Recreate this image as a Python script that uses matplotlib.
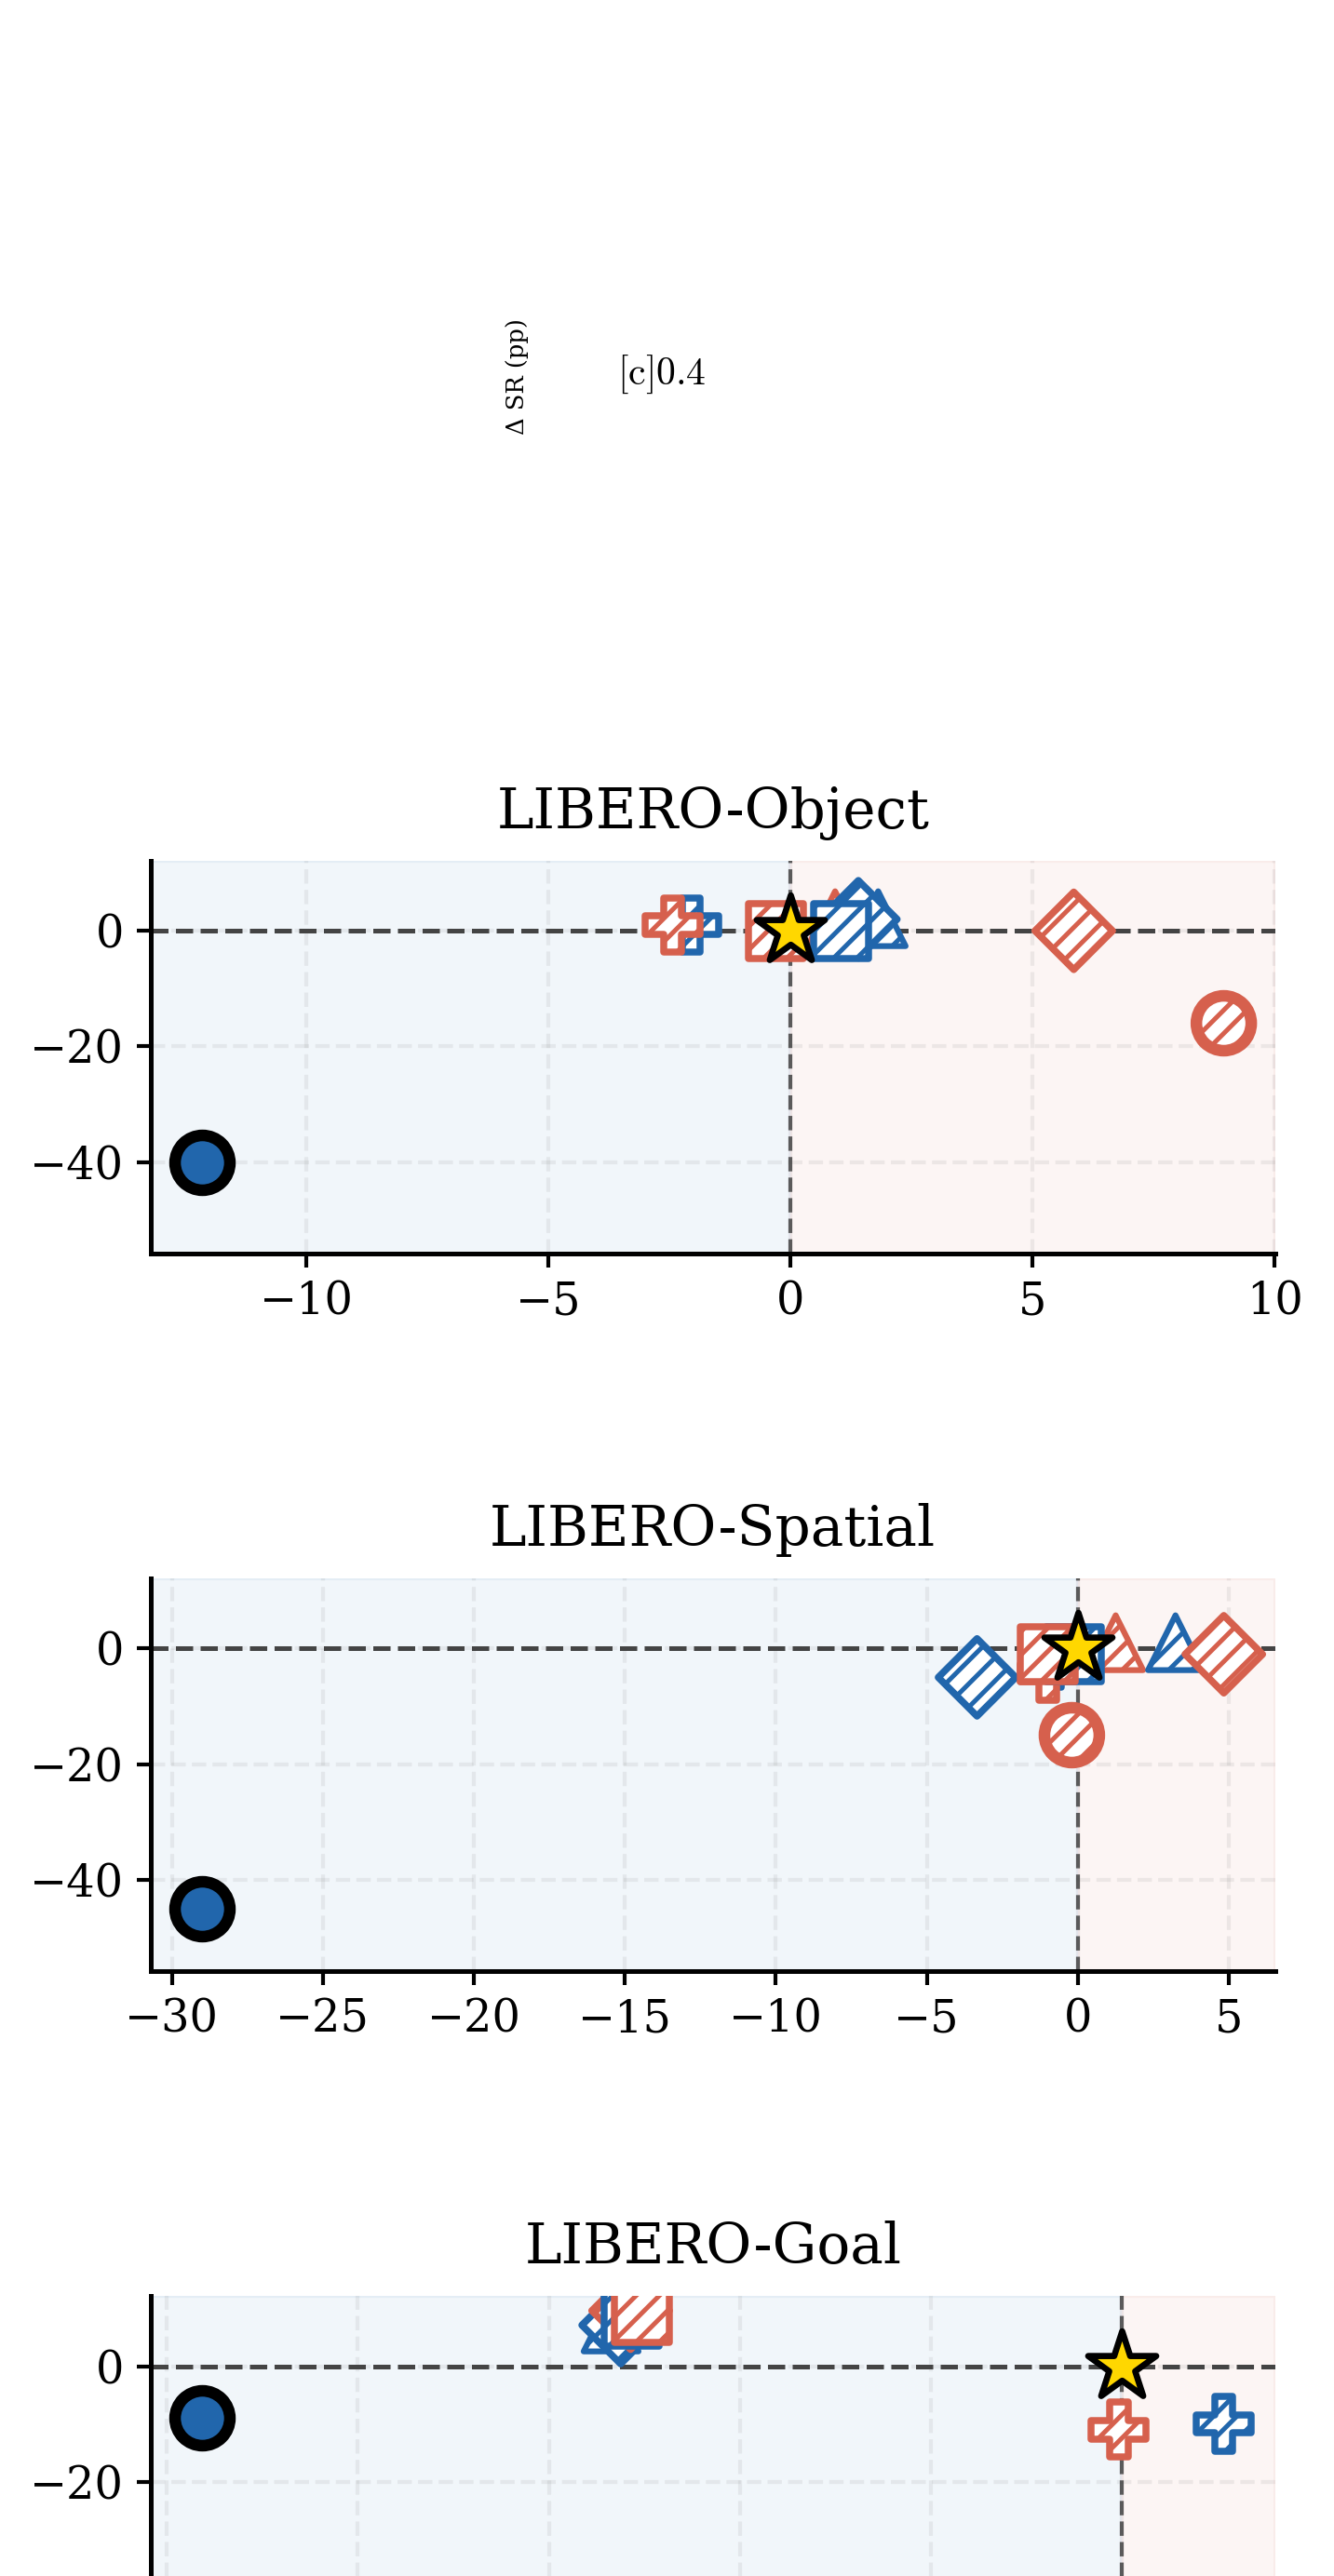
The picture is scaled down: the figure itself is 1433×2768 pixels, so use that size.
import numpy as np
import matplotlib.pyplot as plt

# ------------------ DATA ------------------
panels = ["LIBERO-Object", "LIBERO-Spatial", "LIBERO-Goal"]

# hatched methods: marker + colour, in drawing order
method_markers = ["P", "P", "^", "^", "D", "D", "s", "s", "o"]
method_colors = ["blue", "red", "red", "blue", "blue", "red", "blue", "red", "red"]

# x / y per panel (None = not shown)
object_x = [-2.05, -2.44, 0.92, 1.81, 1.40, 5.85, 1.05, -0.31, 8.95]
object_y = [1.0, 1.0, 2.1, 2.1, 2.0, 0.0, 0.0, 0.0, -16.0]
spatial_x = [-0.87, -1.0, 1.25, 3.23, -3.34, 4.83, -0.15, -1.0, -0.2]
spatial_y = [-2.0, -4.2, 1.0, 1.0, -5.0, -1.0, -1.0, -1.0, -15.0]
goal_x = [2.67, -0.08, None, -13.37, -13.12, -12.86, -12.84, -12.57, None]
goal_y = [-10.0, -11.0, None, 7.3, 7.1, 9.6, 8.2, 8.9, None]

# filled baseline point per panel
baseline_x = [-12.16, -29.0, -24.08]
baseline_y = [-40.0, -45.0, -9.0]

y_limits = (-55.8, 12.1)
y_ticks = [-40, -20, 0]
# ------------------------------------------

BLUE = "#2166ac"
RED = "#d6604d"
cmap = {"blue": BLUE, "red": RED}

plt.rcParams["font.family"] = "serif"
plt.rcParams["hatch.linewidth"] = 1.2

fig = plt.figure(figsize=(1433 / 300, 2768 / 300), dpi=300)

ax_left, ax_width, ax_height = 0.1131, 0.8426, 0.1523
ax_bottoms = [0.5135, 0.2349, -0.0437]

all_x = [object_x, spatial_x, goal_x]
all_y = [object_y, spatial_y, goal_y]

for i, name in enumerate(panels):
    ax = fig.add_axes([ax_left, ax_bottoms[i], ax_width, ax_height])

    for xv, yv, mk, col in zip(all_x[i], all_y[i], method_markers, method_colors):
        if xv is None:
            continue
        lw = 3.0 if mk == "o" else (1.5 if mk == "^" else 1.8)
        ax.scatter([xv], [yv], s=200, marker=mk, facecolor="white",
                   edgecolor=cmap[col], linewidth=lw, hatch="////", zorder=3)

    ax.scatter([baseline_x[i]], [baseline_y[i]], s=200, marker="o",
               facecolor=BLUE, edgecolor="black", linewidth=3.0, zorder=4)
    ax.scatter([0], [0], s=340, marker="*", facecolor="gold",
               edgecolor="black", linewidth=1.6, zorder=5)

    # freeze autoscaled x range, then shade halves
    ax.set_ylim(*y_limits)
    xl = ax.get_xlim()
    ax.set_xlim(xl)
    ax.axvspan(xl[0], 0, color=BLUE, alpha=0.06, zorder=0)
    ax.axvspan(0, xl[1], color=RED, alpha=0.06, zorder=0)

    ax.axhline(0, color="#444444", ls="--", lw=1.2, zorder=2)
    ax.axvline(0, color="#444444", ls="--", lw=1.0, alpha=0.85, zorder=2)

    ax.set_yticks(y_ticks)
    ax.grid(True, ls="--", color="gray", alpha=0.12, lw=1.0)
    ax.set_axisbelow(True)
    ax.spines["top"].set_visible(False)
    ax.spines["right"].set_visible(False)
    ax.spines["left"].set_linewidth(1.2)
    ax.spines["bottom"].set_linewidth(1.2)
    ax.tick_params(labelsize=11.5, width=1.0)
    ax.set_title(name, fontsize=14.3, pad=8.5)

    if i == len(panels) - 1:
        # last panel runs past the bottom edge of the image
        ax.tick_params(labelbottom=False)
        ax.set_yticks(y_ticks, ["", "\u221220", "0"])

# stray labels at the top of the figure
fig.text(0.3873, 0.854, "\u0394 SR (pp)", rotation=90, fontsize=6.2,
         ha="center", va="center")
fig.text(0.4627, 0.8545, r"$\mathrm{[c]0.4}$", fontsize=10, math_fontfamily="cm",
         ha="left", va="center")

fig.savefig("out.png", dpi=300)
